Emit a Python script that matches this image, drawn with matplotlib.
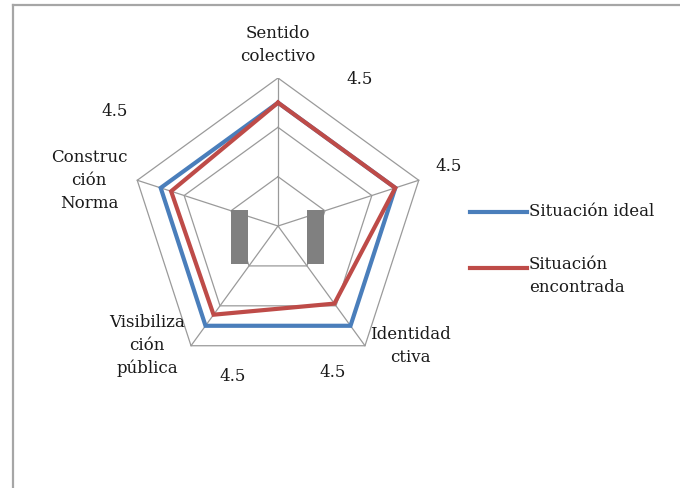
import matplotlib.pyplot as plt
import numpy as np
from matplotlib.lines import Line2D

plt.rcParams['font.family'] = ['DejaVu Serif']

# categories, clockwise from the top
categories = ["Sentido\ncolectivo", "", "Identidad\nctiva", "Visibiliza\nción\npública", "Construc\nción\nNorma"]
ideal = [4.5, 4.5, 4.5, 4.5, 4.5]
found = [4.5, 4.5, 3.5, 4.0, 4.1]
rings = [1.8, 3.6, 5.4]
value_labels = ["4.5", "4.5", "4.5", "4.5", "4.5"]

# the two grey blocks inside the web
block_x = [-1.4, 1.37]
block_h = [1.97, 1.97]
block_bottom = -1.39

BLUE = "#4a7ebb"
RED = "#be4b48"
GRID = "#9a9a9a"

n = len(categories)
theta = np.arange(n) * 2 * np.pi / n


def radar_xy(vals):
    vals = np.asarray(vals, dtype=float)
    return vals * np.sin(theta), vals * np.cos(theta)


def closed(a):
    return np.append(a, a[0])


fig = plt.figure(figsize=(6.8, 4.88), dpi=100)
rmax = rings[-1]
ax = fig.add_axes([130 / 680, (488 - 226 - 148) / 488, 296 / 680, 296 / 488])
ax.set_xlim(-rmax, rmax)
ax.set_ylim(-rmax, rmax)
ax.set_aspect('equal')
ax.axis('off')

# web: rings and spokes
for r in rings:
    x, y = radar_xy([r] * n)
    ax.plot(closed(x), closed(y), color=GRID, lw=0.9, zorder=1)
xo, yo = radar_xy([rmax] * n)
for k in range(n):
    ax.plot([0, xo[k]], [0, yo[k]], color=GRID, lw=0.9, zorder=1)

ax.bar(block_x, block_h, width=0.6, bottom=block_bottom, color="#808080", zorder=2)

# series
x, y = radar_xy(ideal)
ax.plot(closed(x), closed(y), color=BLUE, lw=3, zorder=3, solid_joinstyle='miter')
x, y = radar_xy(found)
ax.plot(closed(x), closed(y), color=RED, lw=3, zorder=4, solid_joinstyle='miter')

# category names next to the outer vertices
name_offsets = [(0, 33), (0, 0), (45, 0), (-44, 0), (-48, 0)]
for k in range(n):
    if not categories[k]:
        continue
    ax.annotate(categories[k], xy=(xo[k], yo[k]), xytext=name_offsets[k],
                textcoords='offset pixels', ha='center', va='center',
                multialignment='center', fontsize=12, linespacing=1.45,
                color="#1a1a1a", annotation_clip=False)

# value labels
xi, yi = radar_xy(ideal)
label_offsets = [(82, 23), (53, 21), (-18, -47), (27, -51), (-46, 76)]
for k in range(n):
    ax.annotate(value_labels[k], xy=(xi[k], yi[k]), xytext=label_offsets[k],
                textcoords='offset pixels', ha='center', va='center',
                fontsize=12, color="#1a1a1a", annotation_clip=False)

# legend
fig.add_artist(Line2D([470 / 680, 527 / 680], [1 - 212 / 488] * 2, color=BLUE, lw=3))
fig.text(529 / 680, 1 - 212 / 488, "Situación ideal", ha='left', va='center',
         fontsize=12, color="#1a1a1a")
fig.add_artist(Line2D([470 / 680, 527 / 680], [1 - 268 / 488] * 2, color=RED, lw=3))
fig.text(529 / 680, 1 - 256 / 488, "Situación\nencontrada", ha='left', va='top',
         fontsize=12, color="#1a1a1a", linespacing=1.45)

# frame (top and left edges)
fig.add_artist(Line2D([13 / 680, 1], [1 - 5 / 488] * 2, color="#a6a6a6", lw=1.6))
fig.add_artist(Line2D([13 / 680] * 2, [0, 1 - 5 / 488], color="#a6a6a6", lw=1.6))

fig.savefig("out.png", dpi=100)
